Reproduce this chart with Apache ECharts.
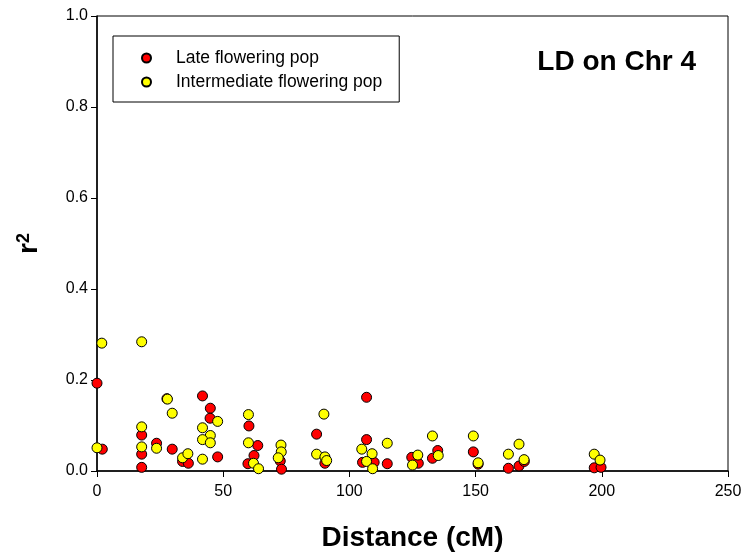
<!DOCTYPE html>
<html><head><meta charset="utf-8">
<script src="https://cdn.jsdelivr.net/npm/echarts@6/dist/echarts.min.js"></script>
<style>html,body{margin:0;padding:0;background:#fff}#c{width:746px;height:557px}</style>
</head><body><div id="c"></div>
<script>
const seriesNames = ['Late flowering pop', 'Intermediate flowering pop'];
const lateFlowering = [
  [0, 0.193], [2.1, 0.048], [17.7, 0.079], [17.7, 0.037], [17.7, 0.008], [23.6, 0.061],
  [27.7, 0.159], [29.8, 0.048], [33.9, 0.021], [36.2, 0.017], [41.8, 0.165], [44.9, 0.138],
  [44.8, 0.116], [47.8, 0.031], [60.2, 0.099], [63.7, 0.056], [62.2, 0.034], [59.8, 0.016],
  [72.6, 0.022], [73.1, 0.004], [87, 0.081], [90.3, 0.017], [106.8, 0.162], [106.8, 0.069],
  [105.2, 0.019], [109.8, 0.019], [115, 0.016], [124.7, 0.030], [127.3, 0.017], [135, 0.045],
  [132.9, 0.028], [149.1, 0.042], [151, 0.015], [163, 0.006], [167.2, 0.011], [169.3, 0.021],
  [197, 0.007], [199.7, 0.008]
];
const intermediateFlowering = [
  [1.9, 0.281], [17.7, 0.284], [0, 0.051], [17.7, 0.097], [17.7, 0.053], [23.6, 0.050],
  [27.9, 0.158], [29.8, 0.127], [33.9, 0.029], [36.0, 0.038], [41.8, 0.095], [44.9, 0.078],
  [41.8, 0.069], [44.9, 0.062], [47.8, 0.109], [41.8, 0.026], [60, 0.124], [60, 0.062],
  [62, 0.017], [64, 0.005], [72.9, 0.057], [73.0, 0.042], [71.8, 0.029], [89.9, 0.125],
  [87, 0.037], [90.3, 0.031], [91, 0.023], [104.9, 0.048], [109, 0.038], [106.8, 0.021],
  [109.2, 0.005], [115, 0.061], [127.1, 0.035], [125, 0.013], [132.9, 0.077], [135.2, 0.034],
  [149.1, 0.077], [151, 0.018], [163, 0.037], [167.2, 0.059], [169.2, 0.025], [197, 0.037],
  [199.3, 0.024]
];
const chartTitle = 'LD on Chr 4';
const xTitle = 'Distance (cM)';

const FONT = '"Liberation Sans", Arial, sans-serif';
const chart = echarts.init(document.getElementById('c'), null, {renderer: 'canvas'});
chart.setOption({
  animation: false,
  backgroundColor: '#fff',
  title: {
    text: chartTitle, right: 45, top: 43,
    textStyle: {fontFamily: FONT, fontSize: 28, fontWeight: 'bold', color: '#000'}
  },
  legend: {
    orient: 'vertical', left: 113, top: 36,
    padding: [13, 17, 11, 28],
    borderColor: '#000', borderWidth: 1,
    itemWidth: 9, itemHeight: 9, itemGap: 6,
    textStyle: {fontFamily: FONT, fontSize: 17.5, color: '#000', padding: [0, 0, 0, 20]},
    data: seriesNames.map(n => ({name: n, icon: 'circle'}))
  },
  grid: {left: 97, right: 18, top: 16, bottom: 86, show: true, borderColor: '#000', borderWidth: 1},
  xAxis: {
    type: 'value', min: 0, max: 250, interval: 50,
    name: xTitle, nameLocation: 'middle', nameGap: 53,
    nameTextStyle: {fontFamily: FONT, fontSize: 28, fontWeight: 'bold', color: '#000'},
    axisLine: {show: true, lineStyle: {color: '#000', width: 1.5}},
    axisTick: {show: true, inside: false, length: 6, lineStyle: {color: '#000'}},
    axisLabel: {fontFamily: FONT, fontSize: 16, color: '#000', margin: 13},
    splitLine: {show: false}
  },
  yAxis: {
    type: 'value', min: 0, max: 1, interval: 0.2,
    name: '{r|r}{s|2}', nameLocation: 'middle', nameGap: 54, nameRotate: 90,
    nameTextStyle: {
      fontFamily: FONT, color: '#000',
      rich: {
        r: {fontFamily: FONT, fontSize: 28, fontWeight: 'bold', color: '#000'},
        s: {fontFamily: FONT, fontSize: 18, fontWeight: 'bold', color: '#000', verticalAlign: 'top', padding: [0, 0, 10, 0]}
      }
    },
    axisLine: {show: true, lineStyle: {color: '#000', width: 1.5}},
    axisTick: {show: true, inside: false, length: 6, lineStyle: {color: '#000'}},
    axisLabel: {fontFamily: FONT, fontSize: 16, color: '#000', margin: 9, formatter: v => v.toFixed(1)},
    splitLine: {show: false}
  },
  series: [
    {
      name: seriesNames[0], type: 'scatter', data: lateFlowering, symbol: 'circle', symbolSize: 10,
      itemStyle: {color: '#ff0000', borderColor: '#000', borderWidth: 1, opacity: 1}
    },
    {
      name: seriesNames[1], type: 'scatter', data: intermediateFlowering, symbol: 'circle', symbolSize: 10,
      itemStyle: {color: '#ffff00', borderColor: '#000', borderWidth: 1, opacity: 1}
    }
  ]
});
</script>
</body></html>
